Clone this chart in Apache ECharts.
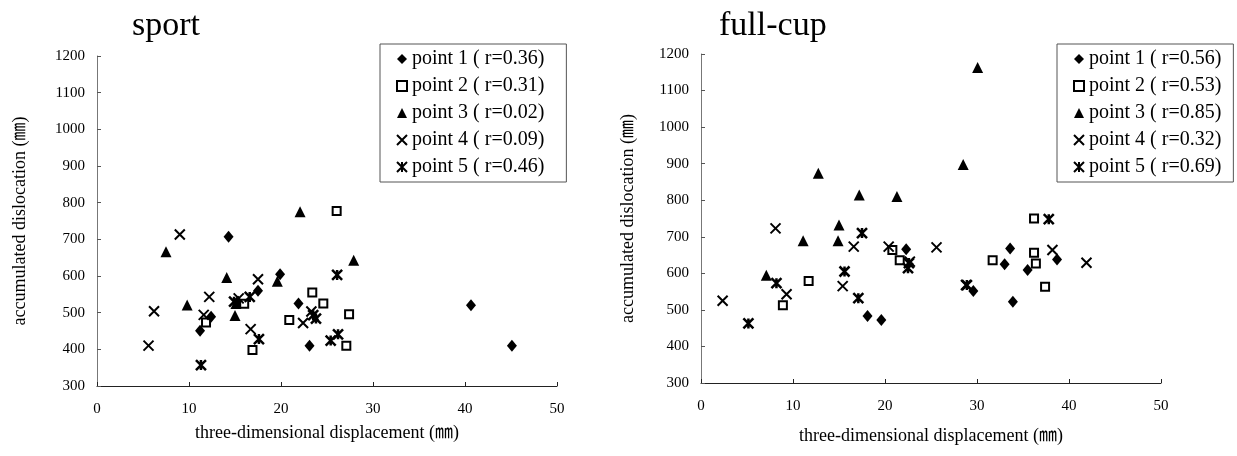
<!DOCTYPE html>
<html>
<head>
<meta charset="utf-8">
<script src="https://cdn.jsdelivr.net/npm/echarts@6/dist/echarts.min.js"></script>
<style>html,body{margin:0;padding:0;background:#fff;}#c{width:1237px;height:456px;}</style>
</head>
<body>
<div id="c"></div>
<script>
// ---- data: [three-dimensional displacement (mm), accumulated dislocation (mm)] ----
const xTicks = [0, 10, 20, 30, 40, 50];
const yTicks = [300, 400, 500, 600, 700, 800, 900, 1000, 1100, 1200];

const sportNames = ['point 1 ( r=0.36)', 'point 2 ( r=0.31)', 'point 3 ( r=0.02)', 'point 4 ( r=0.09)', 'point 5 ( r=0.46)'];
const sportP1 = [[11.2,451],[12.4,489],[14.3,707],[15.3,530],[17.5,560],[19.9,605],[21.9,525],[23.1,410],[40.65,520],[45.1,410]];
const sportP2 = [[11.85,473],[16.0,524],[16.9,398],[20.9,480],[23.4,555],[24.6,525],[26.05,777],[27.1,410],[27.4,496]];
const sportP3 = [[7.5,666],[9.8,521],[14.1,596],[15.0,492],[15.1,525],[19.6,586],[22.07,775],[27.9,643]];
const sportP4 = [[5.6,410],[6.2,504],[9.0,713],[11.6,494],[12.2,543],[15.4,539],[16.7,455],[17.5,591],[22.4,472],[23.3,503]];
const sportP5 = [[11.3,357],[14.9,530],[16.6,543],[17.6,428],[23.5,493],[23.8,484],[25.4,424],[26.2,441],[26.1,603]];

const fullNames = ['point 1 ( r=0.56)', 'point 2 ( r=0.53)', 'point 3 ( r=0.85)', 'point 4 ( r=0.32)', 'point 5 ( r=0.69)'];
const fullP1 = [[18.1,483],[19.6,472],[22.3,666],[29.6,552],[33.0,625],[33.6,668],[33.9,522],[35.5,609],[38.7,638]];
const fullP2 = [[8.9,513],[11.7,579],[20.8,664],[21.6,636],[31.7,636],[36.2,750],[36.2,656],[36.4,627],[37.4,563]];
const fullP3 = [[7.1,595],[11.1,689],[12.75,874],[14.9,689],[15.0,732],[17.2,814],[21.3,810],[28.5,898],[30.07,1163]];
const fullP4 = [[2.35,525],[8.1,723],[9.3,543],[15.4,565],[16.6,673],[20.4,673],[22.7,632],[25.6,671],[28.8,568],[38.2,664],[41.9,629]];
const fullP5 = [[5.15,463],[8.2,573],[15.6,605],[17.1,532],[17.5,710],[22.5,614],[22.6,628],[28.9,568],[37.8,748]];

const titles = ['sport', 'full-cup'];
const xName = 'three-dimensional displacement (\u339C)';
const yName = 'accumulated dislocation (\u339C)';

// ---- styling ----
const serif = 'Liberation Serif, Times New Roman, Noto Sans CJK JP, serif';
const markers = [
  {symbol: 'diamond', symbolSize: [10, 12], itemStyle: {color: '#000', opacity: 1}},
  {symbol: 'rect', symbolSize: 8, itemStyle: {color: '#fff', borderColor: '#000', borderWidth: 2, opacity: 1}},
  {symbol: 'triangle', symbolSize: [11, 11], itemStyle: {color: '#000', opacity: 1}},
  {symbol: 'path://M0,0L10,10M0,10L10,0', symbolSize: 10, itemStyle: {color: 'transparent', borderColor: '#000', borderWidth: 2, opacity: 1}},
  {symbol: 'path://M0,0L10,10M0,10L10,0M5,0L5,10', symbolSize: 10, itemStyle: {color: 'transparent', borderColor: '#000', borderWidth: 2.5, opacity: 1}}
];

function buildSeries(names, sets, gi) {
  return sets.map((d, i) => Object.assign({
    type: 'scatter', name: names[i], data: d,
    xAxisIndex: gi, yAxisIndex: gi, silent: true, animation: false
  }, JSON.parse(JSON.stringify(markers[i]))));
}

function xAxisCfg(gi, gap) {
  return {
    gridIndex: gi, type: 'value', min: 0, max: 50, interval: 10,
    name: xName, nameLocation: 'middle', nameGap: gap,
    nameTextStyle: {fontFamily: serif, fontSize: 18, color: '#000'},
    axisLine: {onZero: false, lineStyle: {color: '#222', width: 1}},
    axisTick: {inside: true, length: 4, lineStyle: {color: '#222'}},
    axisLabel: {fontFamily: serif, fontSize: 15, color: '#000', margin: 16,
      formatter: v => xTicks.includes(v) ? String(v) : ''},
    splitLine: {show: false}
  };
}
function yAxisCfg(gi, gap) {
  return {
    gridIndex: gi, type: 'value', min: 300, max: 1200, interval: 100,
    name: yName, nameLocation: 'middle', nameGap: gap,
    nameTextStyle: {fontFamily: serif, fontSize: 18, color: '#000'},
    axisLine: {show: true, lineStyle: {color: '#777', width: 1}},
    axisTick: {show: true, inside: true, length: 4, lineStyle: {color: '#555'}},
    axisLabel: {fontFamily: serif, fontSize: 15, color: '#000', margin: 12,
      formatter: v => yTicks.includes(v) ? String(v) : ''},
    splitLine: {show: false}
  };
}
function legendCfg(names, left, padRight) {
  return {
    data: names, orient: 'vertical', left: left, top: 44,
    backgroundColor: '#fff', borderColor: '#555', borderWidth: 1,
    padding: [4, padRight, 4, 16], itemGap: 5, itemWidth: 10, itemHeight: 10,
    textStyle: {fontFamily: serif, fontSize: 20, color: '#000', lineHeight: 22},
    selectedMode: false
  };
}

const chart = echarts.init(document.getElementById('c'), null, {renderer: 'canvas'});
chart.setOption({
  backgroundColor: '#fff',
  animation: false,
  title: [
    {text: titles[0], left: 127, top: 4, textStyle: {fontFamily: serif, fontSize: 34, fontWeight: 'normal', color: '#000'}},
    {text: titles[1], left: 714, top: 4, textStyle: {fontFamily: serif, fontSize: 34, fontWeight: 'normal', color: '#000'}}
  ],
  grid: [
    {left: 97, right: 680, top: 56, bottom: 70},
    {left: 701, right: 76, top: 54, bottom: 73}
  ],
  xAxis: [xAxisCfg(0, 38), xAxisCfg(1, 44)],
  yAxis: [yAxisCfg(0, 68), yAxisCfg(1, 64)],
  legend: [legendCfg(sportNames, 380, 22), legendCfg(fullNames, 1057, 12)],
  series: buildSeries(sportNames, [sportP1, sportP2, sportP3, sportP4, sportP5], 0)
    .concat(buildSeries(fullNames, [fullP1, fullP2, fullP3, fullP4, fullP5], 1))
});
</script>
</body>
</html>
